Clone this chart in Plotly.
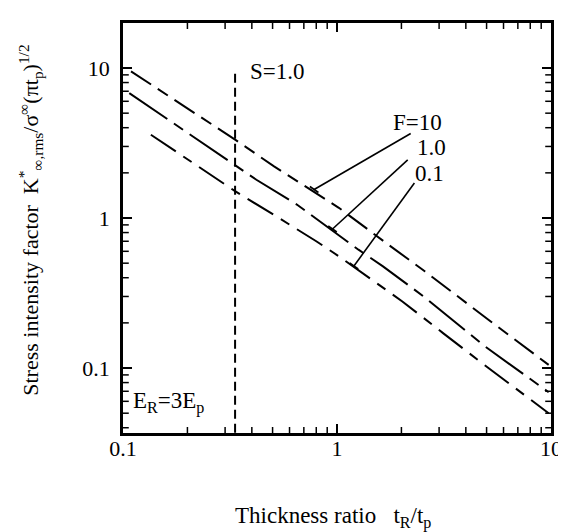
import plotly.graph_objects as go

# ---- data (thickness ratio tR/tp vs K) ----
f10_x = [0.109, 0.334, 0.508, 1.02, 1.70, 2.58, 5.1, 9.75]
f10_y = [9.5, 3.33, 2.21, 1.17, 0.68, 0.44, 0.21, 0.105]

f1_x = [0.107, 0.334, 0.42, 0.649, 1.26, 1.64, 2.54, 4.93, 9.75]
f1_y = [6.8, 2.26, 1.80, 1.23, 0.615, 0.476, 0.30, 0.139, 0.069]

f01_x = [0.135, 0.334, 0.518, 0.80, 1.02, 2.02, 3.13, 5.1, 9.75]
f01_y = [3.59, 1.51, 1.03, 0.70, 0.556, 0.278, 0.171, 0.10, 0.050]

s_x = [0.334, 0.334]
s_y = [0.037, 9.5]

# leader lines (label end -> curve end)
lead10_x = [2.21, 0.782]
lead10_y = [3.66, 1.55]
lead1_x = [2.14, 0.953]
lead1_y = [2.44, 0.845]
lead01_x = [2.30, 1.20]
lead01_y = [1.71, 0.479]

x_minor = [m * 10 ** e for e in (-1, 0) for m in range(2, 10)]
y_minor = [m * 10 ** e for e in (-2, -1, 0, 1) for m in range(2, 10)]

FONT = "Liberation Serif"
X_RANGE = [-1, 1]
Y_RANGE = [-1.433, 1.30]

fig = go.Figure()

def add_line(x, y, dash, width=2):
    fig.add_trace(go.Scatter(x=x, y=y, mode="lines",
                             line=dict(color="black", width=width, dash=dash),
                             connectgaps=False,
                             showlegend=False, hoverinfo="skip"))

add_line(f10_x, f10_y, "24px,8px,12px,8px")
add_line(f1_x, f1_y, "46px,8px,11px,8px")
add_line(f01_x, f01_y, "30px,9px,10px,9px")
add_line(s_x, s_y, "9px,5px")
for lx, ly in [(lead10_x, lead10_y), (lead1_x, lead1_y), (lead01_x, lead01_y)]:
    add_line(lx, ly, "solid", 1.6)

# small end marks on leader ends (along curve direction)
for lx, ly in [(lead10_x, lead10_y), (lead1_x, lead1_y), (lead01_x, lead01_y)]:
    d = 0.02
    ex, ey = lx[1], ly[1]
    add_line([ex * 10 ** (-d), ex * 10 ** d], [ey * 10 ** d, ey * 10 ** (-d)], "solid", 1.6)

# minor ticks (inside, on all four sides), one short trace per tick
ylen = 0.04    # decades in y  (~6 px)
xlen = 0.027   # decades in x  (~6 px)
ylo, yhi = 10 ** Y_RANGE[0], 10 ** Y_RANGE[1]
xlo, xhi = 10 ** X_RANGE[0], 10 ** X_RANGE[1]
for v in x_minor:
    add_line([v, v], [ylo, 10 ** (Y_RANGE[0] + ylen)], "solid", 1.5)
    add_line([v, v], [yhi, 10 ** (Y_RANGE[1] - ylen)], "solid", 1.5)
for v in y_minor:
    if ylo < v < yhi:
        add_line([xlo, 10 ** (X_RANGE[0] + xlen)], [v, v], "solid", 1.5)
        add_line([xhi, 10 ** (X_RANGE[1] - xlen)], [v, v], "solid", 1.5)

ann_font = dict(family=FONT, size=23, color="black")
annotations = [
    dict(x=-0.417, y=0.98, text="S=1.0", xanchor="left", yanchor="middle"),
    dict(x=0.499, y=0.64, text="F=10", xanchor="right", yanchor="middle"),
    dict(x=0.517, y=0.473, text="1.0", xanchor="right", yanchor="middle"),
    dict(x=0.508, y=0.30, text="0.1", xanchor="right", yanchor="middle"),
    dict(x=-0.964, y=-1.23, text="E<sub>R</sub>=3E<sub>p</sub>", xanchor="left", yanchor="middle"),
]
for a in annotations:
    a.update(xref="x", yref="y", showarrow=False, font=ann_font)

annotations.append(dict(
    xref="paper", yref="paper", x=-0.215, y=0.52, showarrow=False, textangle=-90,
    xanchor="center", yanchor="middle",
    text="Stress intensity factor&nbsp;&nbsp;K<sup>*</sup><sub>∞,rms</sub>/σ<sup>∞</sup>(πt<sub>p</sub>)<sup>1/2</sup>",
    font=dict(family=FONT, size=22, color="black")))
annotations.append(dict(
    xref="paper", yref="paper", x=0.49, y=-0.205, showarrow=False,
    xanchor="center", yanchor="middle",
    text="Thickness ratio&nbsp;&nbsp;&nbsp;t<sub>R</sub>/t<sub>p</sub>",
    font=dict(family=FONT, size=23, color="black")))

axis_common = dict(
    type="log", showgrid=False, zeroline=False,
    showline=True, linecolor="black", linewidth=2.5, mirror="allticks",
    tickmode="linear", tick0=0, dtick=1,
    ticks="inside", ticklen=9, tickwidth=2, tickcolor="black",
    tickfont=dict(family=FONT, size=22, color="black"),
)

fig.update_layout(
    width=566, height=532,
    margin=dict(l=115, r=12, t=15, b=107),
    paper_bgcolor="white", plot_bgcolor="white",
    xaxis=dict(range=X_RANGE, ticklabelstandoff=-6, **axis_common),
    yaxis=dict(range=Y_RANGE, ticklabelstandoff=6, **axis_common),
    annotations=annotations,
)

fig.write_html("out.html")
